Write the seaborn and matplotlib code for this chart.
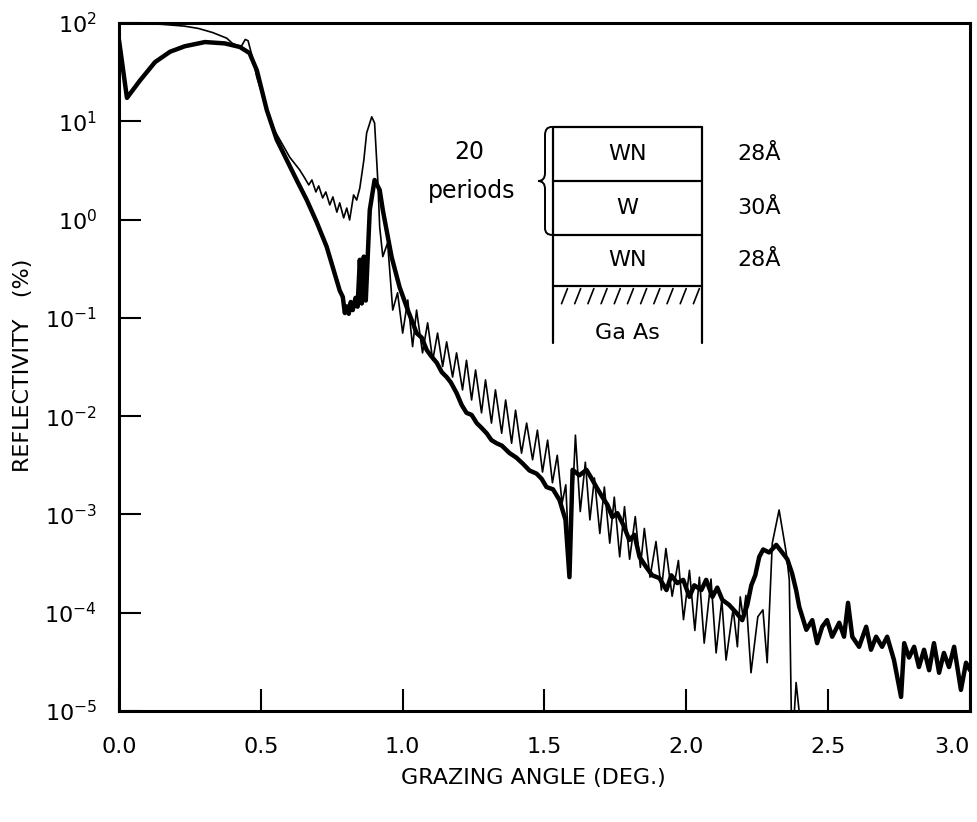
import numpy as np
import pandas as pd
import matplotlib
matplotlib.use("Agg")
import matplotlib.pyplot as plt
from matplotlib.ticker import FixedLocator, FormatStrFormatter, NullLocator, LogFormatterSciNotation
from matplotlib.path import Path
from matplotlib.patches import PathPatch
import seaborn as sns

# ---------------- data ----------------
# measured (thick) curve: grazing angle in degrees, reflectivity in %
angle_thick = [
    0.000, 0.028, 0.074, 0.127, 0.180, 0.232, 0.303, 0.373, 0.426, 0.460,
    0.486, 0.521, 0.556, 0.592, 0.627, 0.662, 0.697, 0.732, 0.778, 0.789,
    0.796, 0.803, 0.810, 0.817, 0.824, 0.834, 0.841, 0.849, 0.856, 0.863,
    0.870, 0.884, 0.901, 0.919, 0.930, 0.961, 0.989, 1.018, 1.035, 1.049,
    1.067, 1.085, 1.100, 1.120, 1.138, 1.155, 1.170, 1.190, 1.208, 1.225,
    1.243, 1.261, 1.278, 1.296, 1.313, 1.331, 1.350, 1.377, 1.400, 1.423,
    1.447, 1.472, 1.490, 1.507, 1.530, 1.553, 1.574, 1.588, 1.599, 1.623,
    1.648, 1.665, 1.683, 1.704, 1.722, 1.739, 1.757, 1.778, 1.799, 1.817,
    1.835, 1.859, 1.880, 1.905, 1.930, 1.947, 1.968, 1.989, 2.011, 2.028,
    2.053, 2.070, 2.092, 2.109, 2.127, 2.151, 2.176, 2.197, 2.215, 2.229,
    2.243, 2.257, 2.271, 2.292, 2.317, 2.338, 2.356, 2.373, 2.387, 2.398,
    2.423, 2.444, 2.461, 2.479, 2.496, 2.514, 2.539, 2.556, 2.570, 2.585,
    2.609, 2.634, 2.651, 2.669, 2.690, 2.708, 2.732, 2.757, 2.768, 2.785,
    2.803, 2.820, 2.838, 2.856, 2.873, 2.891, 2.908, 2.926, 2.944, 2.968,
    2.986, 3.000,
]
refl_thick = [
    67, 17.3, 26, 40, 51, 58, 64, 62, 57, 49.5,
    33, 13, 6.5, 4.0, 2.5, 1.58, 0.94, 0.53, 0.19, 0.163,
    0.112, 0.131, 0.11, 0.145, 0.12, 0.16, 0.13, 0.39, 0.14, 0.42,
    0.15, 1.25, 2.53, 2.0, 1.25, 0.417, 0.206, 0.12, 0.09, 0.070,
    0.063, 0.047, 0.041, 0.035, 0.028, 0.025, 0.022, 0.0172, 0.013, 0.0108,
    0.0103, 0.0085, 0.0076, 0.0067, 0.0057, 0.0053, 0.0050, 0.0042, 0.0038, 0.0033,
    0.0028, 0.0026, 0.0023, 0.0019, 0.0018, 0.0014, 8.8e-4, 2.3e-4, 2.84e-3, 2.5e-3,
    2.84e-3, 2.35e-3, 1.9e-3, 1.5e-3, 1.25e-3, 9.4e-4, 1.03e-3, 7.8e-4, 5.5e-4, 6.2e-4,
    3.7e-4, 2.9e-4, 2.4e-4, 2.25e-4, 1.7e-4, 2.4e-4, 2.0e-4, 2.16e-4, 1.45e-4, 1.9e-4,
    1.7e-4, 2.16e-4, 1.45e-4, 1.8e-4, 1.35e-4, 1.2e-4, 1.0e-4, 8.4e-5, 1.2e-4, 1.9e-4,
    2.4e-4, 3.7e-4, 4.4e-4, 4.1e-4, 4.9e-4, 4.1e-4, 3.5e-4, 2.5e-4, 1.7e-4, 1.15e-4,
    6.7e-5, 8.4e-5, 4.9e-5, 7.2e-5, 8.4e-5, 5.7e-5, 7.9e-5, 5.7e-5, 1.26e-4, 5.7e-5,
    4.5e-5, 7.2e-5, 4.2e-5, 5.7e-5, 4.5e-5, 5.7e-5, 3.3e-5, 1.39e-5, 4.9e-5, 3.5e-5,
    4.5e-5, 2.8e-5, 4.2e-5, 2.6e-5, 4.9e-5, 2.45e-5, 3.9e-5, 2.8e-5, 4.5e-5, 1.64e-5,
    3.1e-5, 2.6e-5,
]

# calculated (thin) curve
angle_thin = [
    0.000, 0.050, 0.150, 0.230, 0.280, 0.330, 0.380, 0.400, 0.430, 0.445,
    0.455, 0.470, 0.486, 0.542, 0.602, 0.637, 0.655, 0.669, 0.680, 0.694,
    0.704, 0.718, 0.729, 0.743, 0.754, 0.768, 0.778, 0.792, 0.803, 0.813,
    0.827, 0.838, 0.849, 0.863, 0.873, 0.891, 0.901, 0.912, 0.919, 0.930,
    0.947, 0.965, 0.982, 1.000, 1.018, 1.035, 1.049, 1.070, 1.088, 1.106,
    1.123, 1.141, 1.155, 1.176, 1.190, 1.211, 1.225, 1.243, 1.257, 1.278,
    1.292, 1.313, 1.327, 1.349, 1.363, 1.384, 1.398, 1.419, 1.437, 1.458,
    1.475, 1.493, 1.511, 1.528, 1.545, 1.562, 1.575, 1.588, 1.609, 1.626,
    1.644, 1.660, 1.676, 1.695, 1.711, 1.730, 1.746, 1.765, 1.782, 1.800,
    1.820, 1.838, 1.852, 1.872, 1.893, 1.912, 1.928, 1.950, 1.972, 1.990,
    2.011, 2.030, 2.046, 2.063, 2.087, 2.105, 2.125, 2.140, 2.165, 2.180,
    2.190, 2.200, 2.210, 2.228, 2.252, 2.270, 2.285, 2.303, 2.327, 2.352,
    2.363, 2.370, 2.377, 2.387, 2.398, 2.415,
]
refl_thin = [
    100, 99, 97, 93, 88, 80, 70, 62, 57, 68,
    66, 45, 28, 8.7, 4.3, 3.2, 2.64, 2.25, 2.53, 1.91,
    2.2, 1.66, 1.91, 1.41, 1.7, 1.19, 1.48, 1.04, 1.31, 0.99,
    1.78, 1.58, 2.1, 4.0, 7.6, 11.1, 9.6, 2.6, 0.84, 0.42,
    0.58, 0.12, 0.18, 0.070, 0.152, 0.051, 0.12, 0.044, 0.089, 0.037,
    0.070, 0.032, 0.057, 0.025, 0.044, 0.0185, 0.037, 0.0146, 0.0295, 0.0108,
    0.0234, 0.0085, 0.0185, 0.0067, 0.0146, 0.0053, 0.0115, 0.0042, 0.0085, 0.0036,
    0.0072, 0.0027, 0.0057, 0.0021, 0.0040, 0.0013, 0.0020, 3.0e-4, 6.4e-3, 1.07e-3,
    3.4e-3, 8.8e-4, 2.35e-3, 6.4e-4, 1.9e-3, 5.1e-4, 1.5e-3, 3.7e-4, 1.2e-3, 3.5e-4,
    9.5e-4, 2.9e-4, 7.2e-4, 2.3e-4, 5.3e-4, 1.7e-4, 4.5e-4, 1.47e-4, 3.4e-4, 8.5e-5,
    2.7e-4, 6.6e-5, 2.3e-4, 4.9e-5, 2.2e-4, 3.9e-5, 1.35e-4, 3.3e-5, 1.1e-4, 4.5e-5,
    1.45e-4, 9.0e-5, 1.5e-4, 2.45e-5, 9.1e-5, 1.07e-4, 3.1e-5, 5.1e-4, 1.11e-3, 4.1e-4,
    2.16e-4, 1.0e-5, 6.4e-6, 1.95e-5, 9.7e-6, 3.0e-6,
]

x_ticks = [0.0, 0.5, 1.0, 1.5, 2.0, 2.5, 3.0]
y_ticks = [1e-5, 1e-4, 1e-3, 1e-2, 1e-1, 1e0, 1e1, 1e2]

layer_names = ["WN", "W", "WN", "Ga As"]
layer_thickness = ["28Å", "30Å", "28Å"]

# ---------------- styling ----------------
sns.set_theme(style="white")
plt.rcParams.update({
    "font.family": ["DejaVu Sans"],
    "mathtext.fontset": "dejavusans",
    "text.color": "black",
    "axes.labelcolor": "black",
    "axes.edgecolor": "black",
    "xtick.color": "black",
    "ytick.color": "black",
})

fig = plt.figure(figsize=(9.78, 8.22), dpi=100)
ax = fig.add_axes([119 / 978, 1 - 711 / 822, 851 / 978, 688 / 822])

df_thin = pd.DataFrame({"angle": angle_thin, "refl": refl_thin})
df_thick = pd.DataFrame({"angle": angle_thick, "refl": refl_thick})

sns.lineplot(data=df_thin, x="angle", y="refl", sort=False, estimator=None,
             color="black", linewidth=1.2, ax=ax)
sns.lineplot(data=df_thick, x="angle", y="refl", sort=False, estimator=None,
             color="black", linewidth=3.2, ax=ax)

ax.set_yscale("log")
ax.set_xlim(0, 3.0)
ax.set_ylim(1e-5, 1e2)
ax.xaxis.set_major_locator(FixedLocator(x_ticks))
ax.xaxis.set_major_formatter(FormatStrFormatter("%.1f"))
ax.yaxis.set_major_locator(FixedLocator(y_ticks))
ax.yaxis.set_major_formatter(LogFormatterSciNotation())
ax.yaxis.set_minor_locator(NullLocator())
ax.xaxis.set_minor_locator(NullLocator())

ax.tick_params(axis="x", which="major", direction="in", length=16, width=1.5,
               bottom=True, top=False, pad=19, labelsize=16, colors="black")
ax.tick_params(axis="y", which="major", direction="in", length=16, width=1.5,
               left=True, right=False, pad=16, labelsize=16, colors="black")
for sp in ax.spines.values():
    sp.set_linewidth(2.2)
    sp.set_color("black")
    sp.set_visible(True)

ax.set_xlabel("GRAZING ANGLE (DEG.)", fontsize=16, color="black")
ax.set_ylabel("REFLECTIVITY   (%)", fontsize=16, color="black")
ax.xaxis.set_label_coords(0.4865, -0.083)
ax.yaxis.set_label_coords(-0.101, 0.503)

# ---------------- inset: layer structure ----------------
T = ax.transAxes
L, R = 0.510, 0.685
y_top, y1, y2, y3, y_bot = 0.849, 0.770, 0.692, 0.618, 0.535
lw = 1.6
ax.plot([L, L], [y_top, y_bot], color="black", lw=lw, transform=T, clip_on=False)
ax.plot([R, R], [y_top, y_bot], color="black", lw=lw, transform=T, clip_on=False)
for yy in (y_top, y1, y2, y3):
    ax.plot([L, R], [yy, yy], color="black", lw=lw, transform=T)
# substrate hatching
for k in range(11):
    x0 = L + 0.010 + k * 0.0155
    ax.plot([x0, x0 + 0.007], [y3 - 0.026, y3 - 0.004], color="black", lw=1.2, transform=T)

xc = (L + R) / 2
centers = [(y_top + y1) / 2, (y1 + y2) / 2, (y2 + y3) / 2, 0.549]
for name, yc in zip(layer_names, centers):
    ax.text(xc, yc, name, transform=T, ha="center", va="center", fontsize=16, color="black")
for lab, yc in zip(layer_thickness, centers[:3]):
    ax.text(0.752, yc, lab, transform=T, ha="center", va="center", fontsize=16, color="black")

ax.text(0.412, 0.812, "20", transform=T, ha="center", va="center", fontsize=17, color="black")
ax.text(0.414, 0.756, "periods", transform=T, ha="center", va="center", fontsize=17, color="black")

# curly brace
bx, bm, bp = 0.5088, 0.5006, 0.4924
verts = [(bx, y_top), (bm, y_top), (bm, 0.8372), (bm, 0.7820),
         (bm, 0.7703), (bp, 0.7703), (bm, 0.7703), (bm, 0.7587),
         (bm, 0.7020), (bm, y2), (bx, y2)]
codes = [Path.MOVETO, Path.CURVE3, Path.CURVE3, Path.LINETO,
         Path.CURVE3, Path.CURVE3, Path.CURVE3, Path.CURVE3,
         Path.LINETO, Path.CURVE3, Path.CURVE3]
ax.add_patch(PathPatch(Path(verts, codes), transform=T, fill=False, lw=1.4,
                       edgecolor="black"))

# keep the last x tick label inside the figure
fig.canvas.draw()
ax.get_xticklabels()[-1].set_horizontalalignment("right")
ax.get_xticklabels()[-1].set_x(3.0)

fig.savefig("out.png", dpi=100, facecolor="white")
